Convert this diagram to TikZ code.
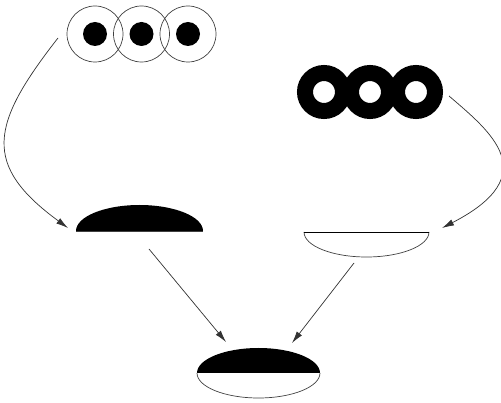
\documentclass[tikz,border=0pt]{standalone}
\usetikzlibrary{arrows.meta}
\begin{document}
\begin{tikzpicture}[x=1pt,y=-1pt,
  thinline/.style={draw=black!75,line width=0.7pt},
  conn/.style={draw=black!80,line width=0.7pt,-{Latex[length=12pt,width=6.5pt]}},
  ringline/.style={draw=black,line width=16pt}]
\useasboundingbox (0,0) rectangle (501,403);
% top-left circles with dots
\foreach \x/\n in {95/1,141.5/2,188/3}{
  \node[circle,thinline,minimum size=56pt,inner sep=0pt] (tc\n) at (\x,34) {};
  \fill (\x,34) circle[radius=12pt];
}
% top-right thick rings
\foreach \x/\n in {324/1,370/2,416/3}{
  \coordinate (tr\n) at (\x,92);
  \draw[ringline] (tr\n) circle[radius=19pt];
}
% left lens (upper half filled)
\coordinate (ll) at (139.5,231);
\fill (76,231) arc[start angle=180,end angle=0,x radius=63.5pt,y radius=26pt] -- cycle;
\draw[thinline] (76,231) -- (203,231);
% right lens (lower half outline)
\coordinate (rl) at (366.5,232);
\draw[thinline] (429,232) arc[start angle=0,end angle=-180,x radius=62.5pt,y radius=25pt];
\draw[black,line width=0.9pt] (304,232) -- (429,232);
% bottom lens
\coordinate (bl) at (258.5,373);
\fill (197,373) arc[start angle=180,end angle=0,x radius=61.5pt,y radius=25pt] -- cycle;
\draw[thinline] (197,373) arc[start angle=180,end angle=360,x radius=61.5pt,y radius=25pt];
% connector end points
\coordinate (a1s) at (58,38);
\coordinate (a1e) at (68,228);
\coordinate (a2s) at (449,96);
\coordinate (a2e) at (442,228);
\coordinate (a3s) at (149,249);
\coordinate (a3e) at (226,342);
\coordinate (a4s) at (354,263);
\coordinate (a4e) at (292,343);
% connectors
\draw[conn] (a1s) .. controls (-10,125) and (-18,165) .. (a1e);
\draw[conn] (a2s) .. controls (491,132) and (545,175) .. (a2e);
\draw[conn] (a3s) -- (a3e);
\draw[conn] (a4s) -- (a4e);
\end{tikzpicture}
\end{document}
